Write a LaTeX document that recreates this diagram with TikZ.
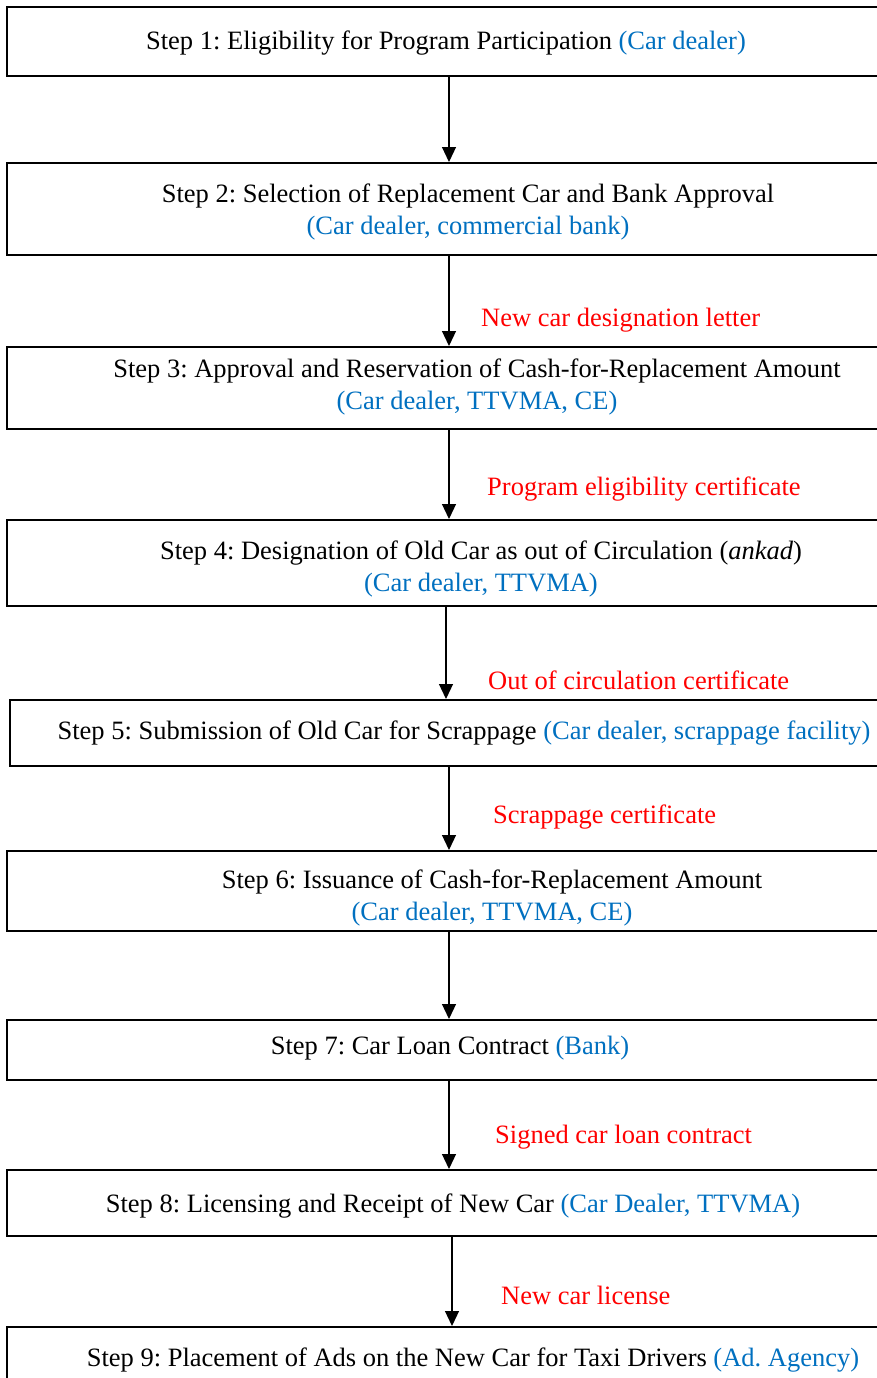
\documentclass[tikz,border=0pt]{standalone}
\usepackage{fontspec}
\setmainfont{Liberation Serif}
\usetikzlibrary{arrows.meta,calc}
\definecolor{who}{RGB}{0,112,192}
\definecolor{doc}{RGB}{255,0,0}
\frenchspacing
\begin{document}
\begin{tikzpicture}[x=1pt,y=-1pt,
  stepbox/.style={draw,line width=2pt,inner sep=0pt,anchor=north west,minimum width=900pt},
  txt/.style={inner sep=0pt,align=center,font=\fontsize{26.5}{32}\selectfont},
  doclabel/.style={inner sep=0pt,anchor=west,text=doc,font=\fontsize{26.5}{32}\selectfont},
  flow/.style={line width=1.2pt,-{Triangle[length=15pt,width=14pt]}}]
\clip (0,0) rectangle (877,1378);
\fill[white] (0,0) rectangle (877,1378);

% process boxes
\node[stepbox,minimum height=69pt] (b1) at (6,6) {};
\node[stepbox,minimum height=92pt] (b2) at (6,162) {};
\node[stepbox,minimum height=82pt] (b3) at (6,346) {};
\node[stepbox,minimum height=86pt] (b4) at (6,519) {};
\node[stepbox,minimum height=66pt] (b5) at (9,699) {};
\node[stepbox,minimum height=80pt] (b6) at (6,850) {};
\node[stepbox,minimum height=60pt] (b7) at (6,1019) {};
\node[stepbox,minimum height=66pt] (b8) at (6,1169) {};
\node[stepbox,minimum height=90pt] (b9) at (6,1326) {};

% step texts
\node[txt] (t1) at (446,43) {Step 1: Eligibility for Program Participation \textcolor{who}{(Car dealer)}};
\node[txt] (t2) at (468,212) {Step 2: Selection of Replacement Car and Bank Approval\\\textcolor{who}{(Car dealer, commercial bank)}};
\node[txt] (t3) at (477,387) {Step 3: Approval and Reservation of Cash-for-Replacement Amount\\\textcolor{who}{(Car dealer, TTVMA, CE)}};
\node[txt] (t4) at (481,569) {Step 4: Designation of Old Car as out of Circulation (\textit{ankad})\\\textcolor{who}{(Car dealer, TTVMA)}};
\node[txt] (t5) at (464,733) {Step 5: Submission of Old Car for Scrappage \textcolor{who}{(Car dealer, scrappage facility)}};
\node[txt] (t6) at (492,898) {Step 6: Issuance of Cash-for-Replacement Amount\\\textcolor{who}{(Car dealer, TTVMA, CE)}};
\node[txt] (t7) at (450,1048) {Step 7: Car Loan Contract \textcolor{who}{(Bank)}};
\node[txt] (t8) at (453,1206) {Step 8: Licensing and Receipt of New Car \textcolor{who}{(Car Dealer, TTVMA)}};
\node[txt] (t9) at (473,1360) {Step 9: Placement of Ads on the New Car for Taxi Drivers \textcolor{who}{(Ad. Agency)}};

% x positions of the connectors
\coordinate (x1) at (449,0);
\coordinate (x4) at (446,0);
\coordinate (x8) at (452,0);

% connectors
\draw[flow] (b1.south -| x1) -- (b2.north -| x1);
\draw[flow] (b2.south -| x1) -- (b3.north -| x1);
\draw[flow] (b3.south -| x1) -- (b4.north -| x1);
\draw[flow] (b4.south -| x4) -- (b5.north -| x4);
\draw[flow] (b5.south -| x1) -- (b6.north -| x1);
\draw[flow] (b6.south -| x1) -- (b7.north -| x1);
\draw[flow] (b7.south -| x1) -- (b8.north -| x1);
\draw[flow] (b8.south -| x8) -- (b9.north -| x8);

% document labels
\node[doclabel] (l2) at (481,320) {New car designation letter};
\node[doclabel] (l3) at (487,489) {Program eligibility certificate};
\node[doclabel] (l4) at (488,680) {Out of circulation certificate};
\node[doclabel] (l5) at (493,817) {Scrappage certificate};
\node[doclabel] (l7) at (495,1137) {Signed car loan contract};
\node[doclabel] (l8) at (501,1295) {New car license};
\end{tikzpicture}
\end{document}
